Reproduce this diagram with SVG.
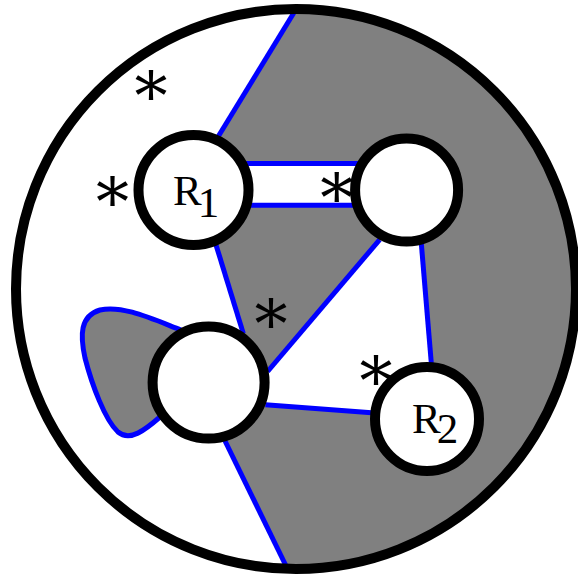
<svg xmlns="http://www.w3.org/2000/svg" width="578" height="578" viewBox="0 0 578 578">
<defs>
<style>
.node{fill:#fff;stroke:#000;stroke-width:10}
.edge{stroke:#0000ff;stroke-width:5;fill:none;stroke-linecap:butt}
.gray{fill:#808080}
.lbl{font-family:"Liberation Serif","Times New Roman",serif;font-size:43px;fill:#000}
.ast{font-family:"DejaVu Serif",serif;font-size:66px;fill:#000;text-anchor:middle}
</style>
<clipPath id="disk"><circle cx="296" cy="289" r="280"/></clipPath>
</defs>
<g id="background">
<circle cx="296" cy="289" r="280" fill="#fff"/>
<g clip-path="url(#disk)">
<polygon class="gray" points="213.8,143.7 307.7,-10 600,-10 600,600 303.5,600 224.8,440.5 243.3,333.6 213.8,237.7"/>
<rect x="240" y="163.5" width="132" height="41.8" fill="#fff"/>
<polygon fill="#fff" points="379.7,239.6 267.6,371.5 265.4,404.7 371.5,412.8 431.3,363 421.3,243.3"/>
</g>
</g>
<g id="connectors">
<path class="edge" style="fill:#808080" d="M181,330 C150,318 122,305 100,310 C80,316 80,335 85,358 C92,385 105,420 118,432 C130,442 145,430 160,417 Z"/>
<line class="edge" x1="298" y1="6" x2="213.8" y2="143.7"/>
<line class="edge" x1="240" y1="163.5" x2="372" y2="163.5"/>
<line class="edge" x1="240" y1="205.3" x2="358" y2="205.3"/>
<line class="edge" x1="213.8" y1="237.7" x2="243.3" y2="333.6"/>
<line class="edge" x1="379.7" y1="239.6" x2="267.6" y2="371.5"/>
<line class="edge" x1="421.3" y1="243.3" x2="431.3" y2="363"/>
<line class="edge" x1="265.4" y1="404.7" x2="371.5" y2="412.8"/>
<line class="edge" x1="224.8" y1="440.5" x2="289" y2="572"/>
</g>
<g id="R1">
<circle class="node" cx="193.5" cy="190" r="55"/>
<text class="lbl" x="173" y="205">R<tspan dx="-4" dy="11.5">1</tspan></text>
</g>
<g id="n2">
<circle class="node" cx="406.6" cy="190" r="51.5"/>
</g>
<g id="n3">
<circle class="node" cx="208.6" cy="382.6" r="56"/>
</g>
<g id="R2">
<circle class="node" cx="427" cy="419" r="52"/>
<text class="lbl" x="412" y="433">R<tspan dx="-4" dy="10">2</tspan></text>
</g>
<g id="boundary">
<circle cx="296" cy="289" r="280" fill="none" stroke="#000" stroke-width="10"/>
</g>
<g id="marks">
<text class="ast" x="151" y="119">*</text>
<text class="ast" x="112.4" y="225">*</text>
<text class="ast" x="336.7" y="221">*</text>
<text class="ast" x="271" y="347">*</text>
<text class="ast" x="376" y="404">*</text>
</g>
</svg>
